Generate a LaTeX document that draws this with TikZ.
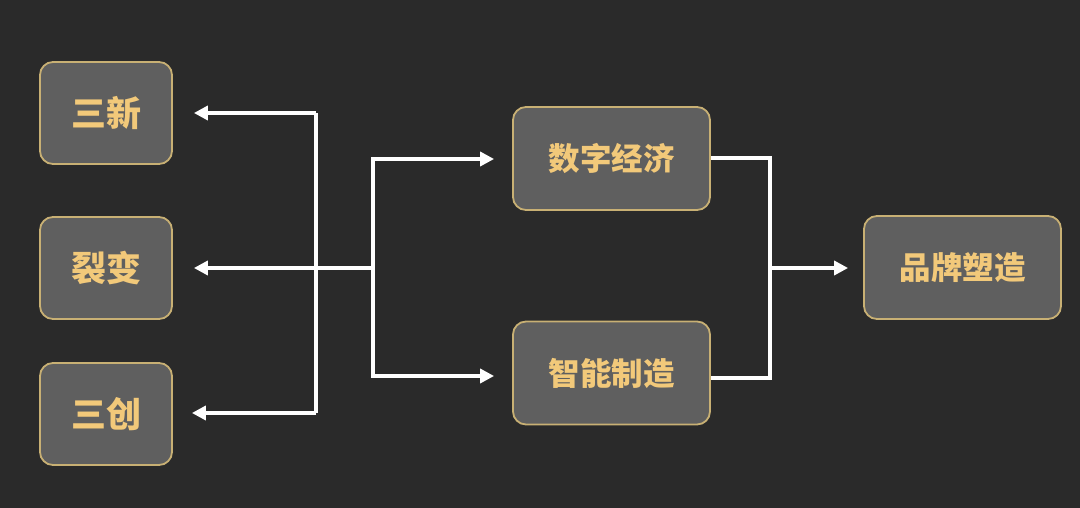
\documentclass[tikz,border=0pt]{standalone}
\usepackage{fontspec}
\newfontfamily\cjk{Noto Sans CJK SC}
\usetikzlibrary{arrows.meta}
\definecolor{bg}{HTML}{2A2A2A}
\definecolor{boxfill}{HTML}{5F5F5F}
\definecolor{boxline}{HTML}{C8B074}
\definecolor{txt}{HTML}{F2C97A}
\tikzset{
  box/.style={draw=boxline, line width=1.8pt, fill=boxfill, rounded corners=13pt,
    text=txt, font=\cjk\bfseries\fontsize{31.5}{36}\selectfont, inner sep=0pt},
  lbox/.style={box, minimum width=132pt, minimum height=102pt, font=\cjk\bfseries\fontsize{35}{40}\selectfont},
  mbox/.style={box, minimum width=197pt, minimum height=103pt},
  conn/.style={draw=white, line width=4pt},
  arr/.style={conn, -{Triangle[length=14pt,width=14pt]}},
}
\begin{document}
\begin{tikzpicture}[x=1pt,y=-1pt]
\fill[bg] (0,0) rectangle (1080,508);
\useasboundingbox (0,0) rectangle (1080,508);
\node[lbox] (sx) at (106,113) {三新};
\node[lbox] (lb) at (106,268) {裂变};
\node[lbox] (sc) at (106,414) {三创};
\node[mbox] (sz) at (611.5,158.5) {数字经济};
\node[mbox] (zn) at (611.5,373) {智能制造};
\node[mbox] (pp) at (962.5,267.5) {品牌塑造};
\coordinate (v1t) at (316,113);
\coordinate (v1b) at (316,413);
\coordinate (hl) at (373,268);
\coordinate (v3) at (770,268);
% left fan
\draw[conn] (v1b) -- (v1t);
\draw[arr] (v1t) -- ([xshift=21pt]sx.east |- v1t);
\draw[arr] (hl) -- ([xshift=21pt]lb.east |- hl);
\draw[arr] (v1b) -- ([xshift=19pt]sc.east |- v1b);
% middle fork
\draw[arr] (hl) |- ([xshift=-18pt]sz.west |- 0,159);
\draw[arr] (hl) |- ([xshift=-18pt]zn.west |- 0,376);
% right merge
\draw[conn] (sz.east |- 0,158) -| (v3) |- (zn.east |- 0,378);
\draw[arr] (v3) -- ([xshift=-15pt]pp.west |- v3);
\end{tikzpicture}
\end{document}
